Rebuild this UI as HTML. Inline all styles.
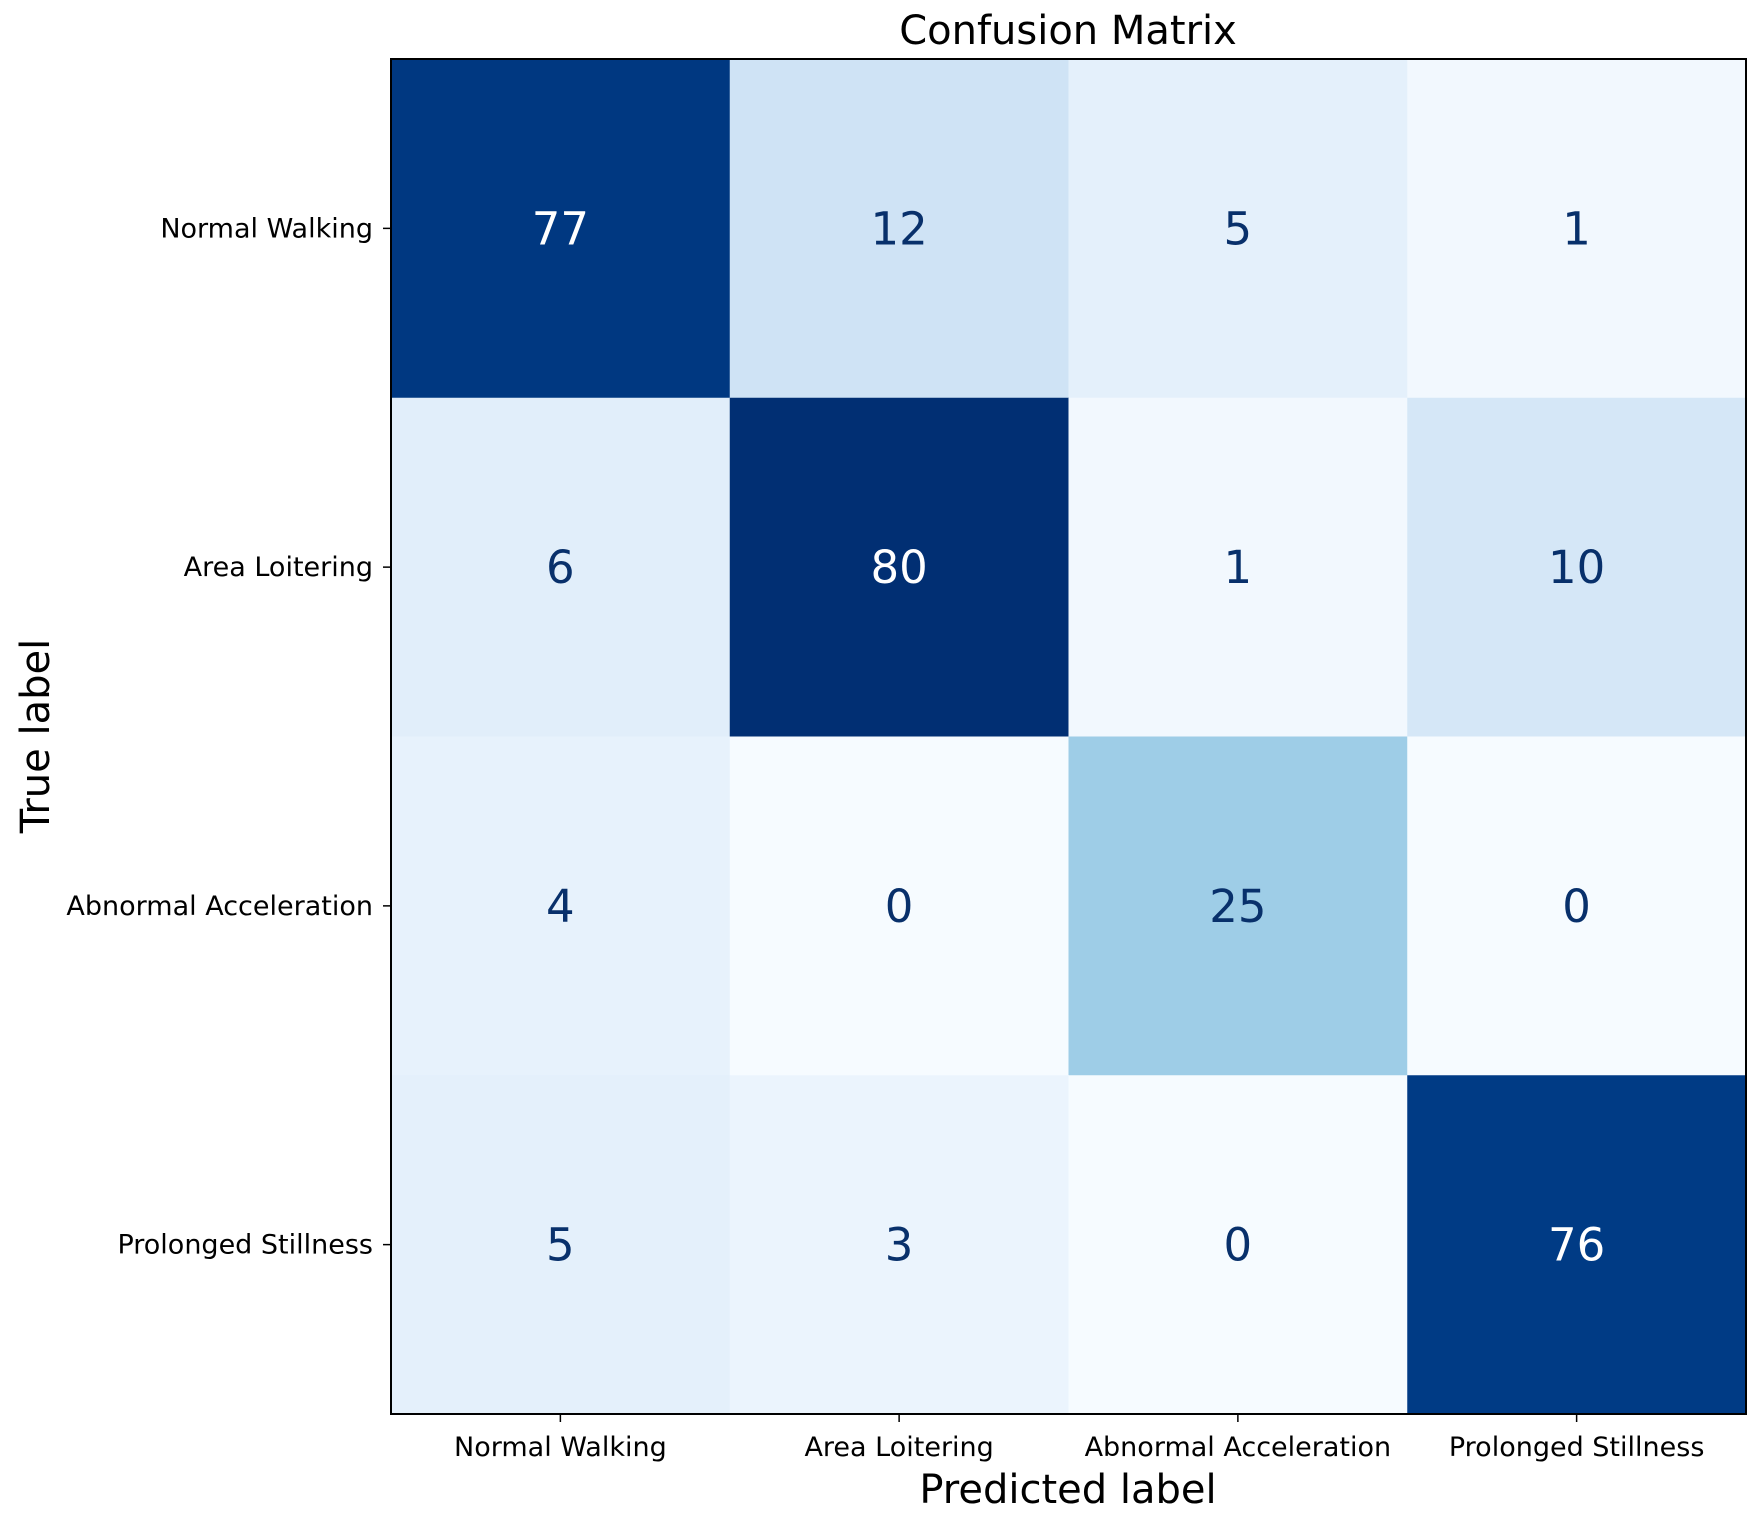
<!DOCTYPE html>
<html><head><meta charset="utf-8"><style>
html,body{margin:0;padding:0;background:#fff;}
svg text{font-family:"DejaVu Sans","Liberation Sans",sans-serif;}
</style></head><body>
<svg id="chart" width="1759" height="1521" xmlns="http://www.w3.org/2000/svg">
<rect width="1759" height="1521" fill="#fff"/>
<text x="1068" y="44" font-size="40" text-anchor="middle" fill="#000">Confusion Matrix</text>
<g id="cells"></g>
<g id="ticks"></g>
<rect x="391" y="59" width="1355" height="1355" fill="none" stroke="#000" stroke-width="2"/>
<text x="1068" y="1503" font-size="40" text-anchor="middle" fill="#000">Predicted label</text>
<text x="0" y="0" font-size="40" text-anchor="middle" fill="#000" transform="translate(49,736) rotate(-90)">True label</text>
</svg>
<script>
const categories = ["Normal Walking","Area Loitering","Abnormal Acceleration","Prolonged Stillness"];
const row0 = [77,12,5,1];
const row1 = [6,80,1,10];
const row2 = [4,0,25,0];
const row3 = [5,3,0,76];
const matrix = [row0,row1,row2,row3];

const L=391,T=59,W=1355,H=1355;
const n=categories.length, cw=W/n, ch=H/n;
const xPos=i=>L+i*cw, yPos=i=>T+i*ch;
const stops=["#f7fbff","#deebf7","#c6dbef","#9ecae1","#6baed6","#4292c6","#2171b5","#08519c","#08306b"];
function hex(h){return [1,3,5].map(i=>parseInt(h.substr(i,2),16));}
function boost(rgb,s){const m=(rgb[0]+rgb[1]+rgb[2])/3;return rgb.map(v=>Math.max(0,Math.min(255,Math.round(m+(v-m)*s))));}
function blues(t){t=Math.max(0,Math.min(1,t));t=Math.pow(t,0.88);const p=t*(stops.length-1);const i=Math.min(Math.floor(p),stops.length-2);const f=p-i;const a=hex(stops[i]),b=hex(stops[i+1]);return "rgb("+boost(a.map((v,k)=>v+(b[k]-v)*f),1.15).join(",")+")";}
const flat=matrix.flat();const vmin=Math.min(...flat),vmax=Math.max(...flat);
const NS="http://www.w3.org/2000/svg";
const cells=document.getElementById('cells'),ticks=document.getElementById('ticks');
matrix.forEach((row,r)=>row.forEach((v,c)=>{
  const rect=document.createElementNS(NS,'rect');
  rect.setAttribute('x',xPos(c));rect.setAttribute('y',yPos(r));
  rect.setAttribute('width',cw+0.5);rect.setAttribute('height',ch+0.5);
  rect.setAttribute('fill',blues((v-vmin)/(vmax-vmin)));
  
  
  cells.appendChild(rect);
  const t=document.createElementNS(NS,'text');
  t.setAttribute('x',xPos(c)+cw/2);t.setAttribute('y',yPos(r)+ch/2+16);
  t.setAttribute('font-size','45');t.setAttribute('text-anchor','middle');
  t.setAttribute('fill',v>(vmin+vmax)/2?'#fff':'#08306b');
  t.textContent=v;
  
  
  cells.appendChild(t);
}));
categories.forEach((name,i)=>{
  const cx=xPos(i)+cw/2, cy=yPos(i)+ch/2;
  const xl=document.createElementNS(NS,'line');
  xl.setAttribute('x1',cx);xl.setAttribute('x2',cx);xl.setAttribute('y1',T+H);xl.setAttribute('y2',T+H+8);
  xl.setAttribute('stroke','#000');xl.setAttribute('stroke-width','1.5');
  
  
  ticks.appendChild(xl);
  const xt=document.createElementNS(NS,'text');
  xt.setAttribute('x',cx);xt.setAttribute('y',1456);xt.setAttribute('font-size','27');xt.setAttribute('text-anchor','middle');
  xt.textContent=name;
  
  
  ticks.appendChild(xt);
  const yl=document.createElementNS(NS,'line');
  yl.setAttribute('x1',L-8);yl.setAttribute('x2',L);yl.setAttribute('y1',cy);yl.setAttribute('y2',cy);
  yl.setAttribute('stroke','#000');yl.setAttribute('stroke-width','1.5');
  
  
  ticks.appendChild(yl);
  const yt=document.createElementNS(NS,'text');
  yt.setAttribute('x',L-18);yt.setAttribute('y',cy+9);yt.setAttribute('font-size','27');yt.setAttribute('text-anchor','end');
  yt.textContent=name;
  
  
  ticks.appendChild(yt);
});
</script>
</body></html>
